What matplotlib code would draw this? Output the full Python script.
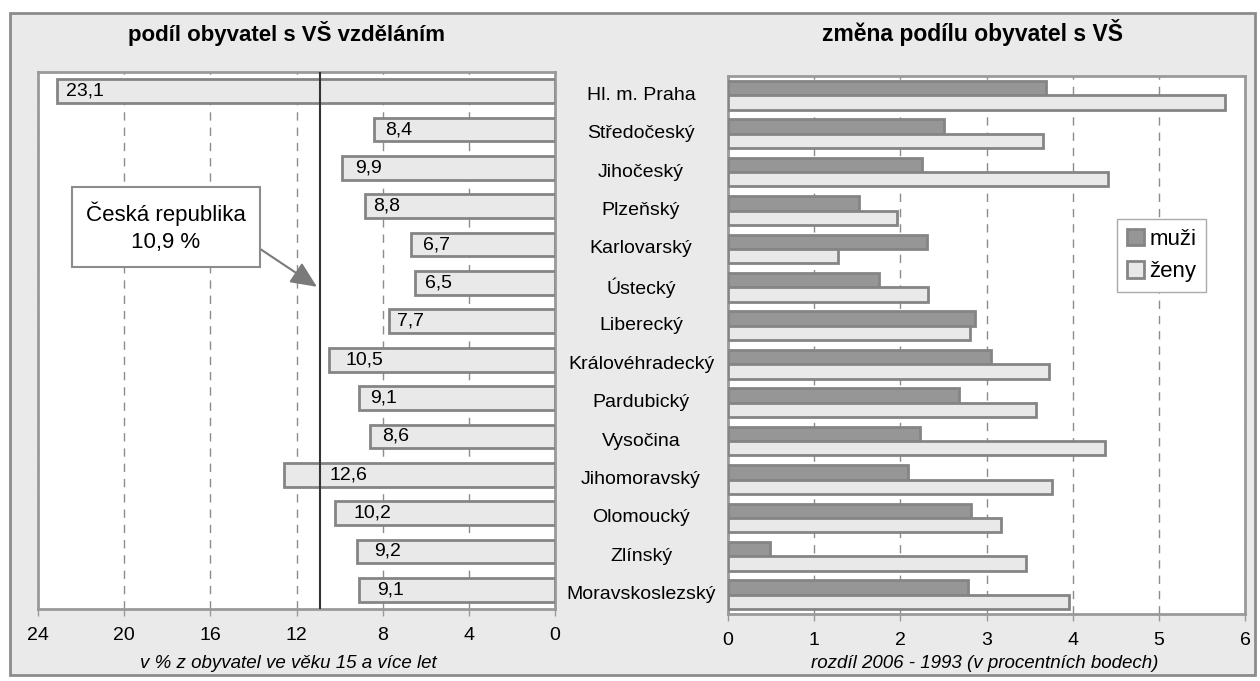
import matplotlib.pyplot as plt
import matplotlib.transforms as mtransforms
from matplotlib.patches import Rectangle, Patch

plt.rcParams['font.family'] = ['Liberation Sans', 'DejaVu Sans']

regions = ['Hl. m. Praha', 'Středočeský', 'Jihočeský', 'Plzeňský', 'Karlovarský',
           'Ústecký', 'Liberecký', 'Královéhradecký', 'Pardubický', 'Vysočina',
           'Jihomoravský', 'Olomoucký', 'Zlínský', 'Moravskoslezský']
share = [23.1, 8.4, 9.9, 8.8, 6.7, 6.5, 7.7, 10.5, 9.1, 8.6, 12.6, 10.2, 9.2, 9.1]
change_men = [3.69, 2.51, 2.25, 1.52, 2.31, 1.75, 2.87, 3.05, 2.68, 2.23, 2.09, 2.82, 0.49, 2.79]
change_women = [5.77, 3.66, 4.41, 1.96, 1.28, 2.32, 2.81, 3.73, 3.58, 4.37, 3.76, 3.17, 3.46, 3.96]
cz_total = 10.9
left_ticks = [24, 20, 16, 12, 8, 4, 0]
right_ticks = [0, 1, 2, 3, 4, 5, 6]

# how far (px) each value label sits inside its bar (hand placed in the original)
label_shift = [9, 11, 13, 8, 12, 10, 8, 17, 11, 12, 46, 18, 17, 18]

W, H = 1260, 681
fig = plt.figure(figsize=(W / 100, H / 100), dpi=100, facecolor='white')

# grey panel with frame
fig.patches.append(Rectangle((10 / W, 1 - 675 / H), 1245 / W, 662 / H, transform=fig.transFigure,
                             facecolor='#eaeaea', edgecolor='#8c8c8c', linewidth=2, zorder=-10))

edge = '#858585'
light = '#e9e9e9'
dark = '#969696'

ax1 = fig.add_axes([38 / W, 1 - 609 / H, 517 / W, 537 / H])
ax2 = fig.add_axes([728 / W, 1 - 614 / H, 517 / W, 538 / H])

ypos = list(range(len(regions)))

# left panel
ax1.barh(ypos, share, height=0.62, color=light, edgecolor=edge, linewidth=2, zorder=3)
for y, v, dx in zip(ypos, share, label_shift):
    ax1.annotate(f'{v:.1f}'.replace('.', ','), (v, y), xytext=(dx * 0.72, 0), textcoords='offset points',
                 ha='left', va='center', fontsize=14, zorder=5)
ax1.axvline(cz_total, color='#333333', linewidth=1.5, zorder=4)
ax1.set_xlim(24, 0)
ax1.set_ylim(13.5, -0.5)
ax1.set_xticks(left_ticks)

# right panel
ax2.barh([y - 0.1875 for y in ypos], change_men, height=0.375, color=dark, edgecolor=edge,
         linewidth=2, zorder=3, label='muži')
ax2.barh([y + 0.1875 for y in ypos], change_women, height=0.375, color=light, edgecolor=edge,
         linewidth=2, zorder=3, label='ženy')
ax2.set_xlim(0, 6)
ax2.set_ylim(13.5, -0.5)
ax2.set_xticks(right_ticks)

for ax in (ax1, ax2):
    ax.set_yticks([])
    ax.grid(axis='x', linestyle=(0, (6, 5)), color='#8c8c8c', linewidth=1, zorder=1)
    for s in ax.spines.values():
        s.set_color('#9a9a9a')
        s.set_linewidth(2)
    ax.tick_params(axis='x', length=5, width=1, color='#9a9a9a', labelsize=14, pad=8)

# category labels between the panels
trans = mtransforms.blended_transform_factory(fig.transFigure, ax2.transData)
for y, name in zip(ypos, regions):
    fig.text(641 / W, y, name, transform=trans, ha='center', va='center', fontsize=14)

# legend
ax2.legend(handles=[Patch(facecolor=dark, edgecolor=edge, linewidth=2, label='muži'),
                    Patch(facecolor=light, edgecolor=edge, linewidth=2, label='ženy')],
           loc='upper left', bbox_to_anchor=((1117 - 728) / 517, (614 - 219) / 538),
           fontsize=16, frameon=True, fancybox=False, edgecolor='#aaaaaa', framealpha=1,
           handlelength=0.75, handleheight=0.75, handletextpad=0.25, borderpad=0.45,
           labelspacing=0.5, borderaxespad=0)

# annotation box
ax1.annotate('Česká republika\n10,9 %', xy=(11.05, 5.1), xycoords='data',
             xytext=(166 / W, 1 - 227 / H), textcoords='figure fraction',
             ha='center', va='center', fontsize=16, linespacing=1.4,
             bbox=dict(boxstyle='square,pad=0.62', facecolor='white', edgecolor='#8c8c8c', linewidth=1.5),
             arrowprops=dict(arrowstyle='-|>,head_length=1.0,head_width=0.45', color='#7a7a7a',
                             linewidth=1.5, shrinkA=0, shrinkB=0,
                             relpos=(1.0, 0.26)),
             zorder=6)

# titles and axis captions
fig.text(286 / W, 1 - 33 / H, 'podíl obyvatel s VŠ vzděláním', ha='center', va='center',
         fontsize=16, fontweight='bold')
fig.text(972 / W, 1 - 33 / H, 'změna podílu obyvatel s VŠ', ha='center', va='center',
         fontsize=16.5, fontweight='bold')
fig.text(288 / W, 1 - 663 / H, 'v % z obyvatel ve věku 15 a více let', ha='center', va='center',
         fontsize=13.5, style='italic')
fig.text(985 / W, 1 - 663 / H, 'rozdíl 2006 - 1993 (v procentních bodech)', ha='center', va='center',
         fontsize=13.5, style='italic')

fig.savefig('out.png', dpi=100, facecolor='white')
